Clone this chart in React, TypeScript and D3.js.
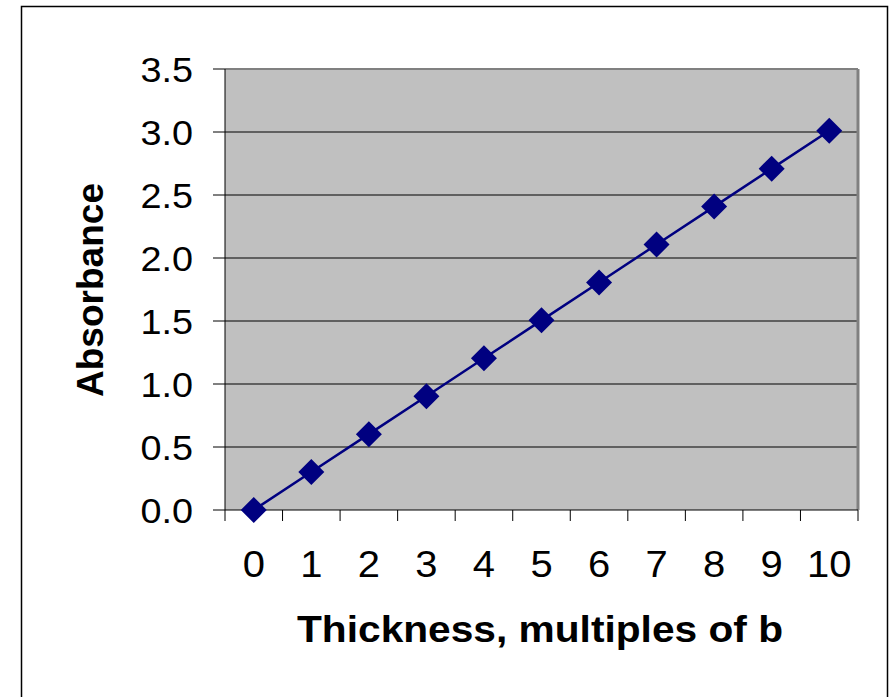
import React from "react";
import * as d3 from "d3";

const categories: string[] = ["0", "1", "2", "3", "4", "5", "6", "7", "8", "9", "10"];
const absorbance: number[] = [0, 0.301, 0.602, 0.903, 1.204, 1.505, 1.806, 2.107, 2.408, 2.709, 3.01];
const yTicks: number[] = [0, 0.5, 1.0, 1.5, 2.0, 2.5, 3.0, 3.5];
const xTitle = "Thickness, multiples of b";
const yTitle = "Absorbance";

export default function App() {
  const W = 891, H = 697;
  const left = 225, right = 858, top = 69, bottom = 510;
  const x = d3.scaleBand<string>().domain(categories).range([left, right]);
  const y = d3.scaleLinear().domain([0, 3.5]).range([bottom, top]);
  const line = d3.line<number>().x((_, i) => x(categories[i])! + x.bandwidth() / 2).y(d => y(d));
  const font = "Liberation Sans, Arial, sans-serif";
  const ms = 13;
  const sx = 1.08;
  const boundaries = d3.range(categories.length + 1).map(i => left + i * x.step());
  return (
    <svg width={W} height={H} style={{ position: "absolute", left: 0, top: 0 }} fontFamily={font}>
      <rect x={0} y={0} width={W} height={H} fill="#fff" />
      <rect x={21.5} y={6.5} width={866} height={720} fill="none" stroke="#000" strokeWidth={1.5} />
      <rect x={left} y={top} width={right - left} height={bottom - top} fill="#C0C0C0" />
      {yTicks.filter(t => t > 0 && t < 3.5).map(t => (
        <line key={t} x1={left} x2={right} y1={y(t)} y2={y(t)} stroke="#000" strokeWidth={1} />
      ))}
      <line x1={left} x2={right} y1={top} y2={top} stroke="#808080" strokeWidth={2} />
      <line x1={right} x2={right} y1={top} y2={bottom} stroke="#808080" strokeWidth={3} />
      <line x1={left} x2={left} y1={top} y2={bottom} stroke="#000" strokeWidth={1} />
      <line x1={left} x2={right} y1={bottom} y2={bottom} stroke="#000" strokeWidth={1} />
      {yTicks.map(t => (
        <g key={t}>
          <line x1={left - 12} x2={left} y1={y(t)} y2={y(t)} stroke="#000" strokeWidth={1} />
          <text transform={`translate(193,${y(t) + 12.5}) scale(${sx},1)`} textAnchor="end" fontSize={35}>{t.toFixed(1)}</text>
        </g>
      ))}
      {boundaries.map((b, i) => (
        <line key={i} x1={b} x2={b} y1={bottom} y2={bottom + 11} stroke="#000" strokeWidth={1} />
      ))}
      {categories.map(c => (
        <text key={c} transform={`translate(${x(c)! + x.bandwidth() / 2},577) scale(${sx},1)`} textAnchor="middle" fontSize={37}>{c}</text>
      ))}
      <path d={line(absorbance)!} fill="none" stroke="#000080" strokeWidth={2.5} />
      {absorbance.map((v, i) => {
        const cx = x(categories[i])! + x.bandwidth() / 2, cy = y(v);
        return <path key={i} d={`M${cx},${cy - ms}L${cx + ms},${cy}L${cx},${cy + ms}L${cx - ms},${cy}Z`} fill="#000080" />;
      })}
      <text x={540} y={642} textAnchor="middle" fontSize={37} fontWeight="bold" textLength={486} lengthAdjust="spacingAndGlyphs">{xTitle}</text>
      <text transform={`translate(103,290) rotate(-90)`} textAnchor="middle" fontSize={37} fontWeight="bold" textLength={214} lengthAdjust="spacingAndGlyphs">{yTitle}</text>
    </svg>
  );
}
